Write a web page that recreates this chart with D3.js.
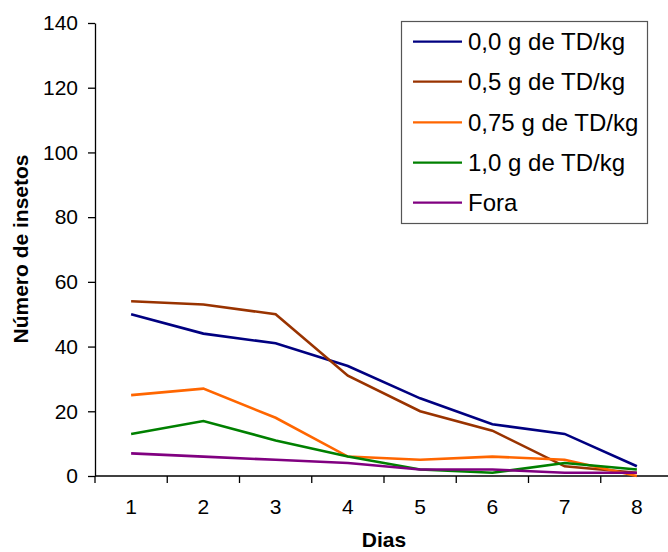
<!DOCTYPE html>
<html>
<head>
<meta charset="utf-8">
<script src="https://cdn.jsdelivr.net/npm/d3@7"></script>
<style>
  html, body { margin: 0; padding: 0; background: #fff; }
  svg { display: block; font-family: "Liberation Sans", Arial, sans-serif; }
</style>
</head>
<body>
<svg id="chart" width="668" height="552"></svg>
<script>
const days = ["1", "2", "3", "4", "5", "6", "7", "8"];
const yTicks = [0, 20, 40, 60, 80, 100, 120, 140];
const seriesNames = ["0,0 g de TD/kg", "0,5 g de TD/kg", "0,75 g de TD/kg", "1,0 g de TD/kg", "Fora"];
const s00 = [50, 44, 41, 34, 24, 16, 13, 3];
const s05 = [54, 53, 50, 31, 20, 14, 3, 1];
const s075 = [25, 27, 18, 6, 5, 6, 5, 0];
const s10 = [13, 17, 11, 6, 2, 1, 4, 2];
const fora = [7, 6, 5, 4, 2, 2, 1, 1];
const colors = ["#000080", "#993300", "#FF6600", "#008000", "#800080"];

const seriesValues = [s00, s05, s075, s10, fora];

const svg = d3.select("#chart");
const plotL = 95, plotR = 673, plotT = 23, plotB = 476;

const x = d3.scaleBand().domain(days).range([plotL, plotR]).padding(0);
const y = d3.scaleLinear().domain([0, 140]).range([plotB, plotT]);

// Y axis
const yAxis = svg.append("g")
  .attr("transform", `translate(${plotL},0)`)
  .call(d3.axisLeft(y).tickValues(yTicks).tickSize(7).tickPadding(10).tickSizeOuter(0));
yAxis.select(".domain").attr("stroke", "#000").attr("stroke-width", 1.3);
yAxis.selectAll(".tick line").attr("stroke", "#000").attr("stroke-width", 1.3);
yAxis.selectAll(".tick text").attr("font-size", 21).attr("fill", "#000")
  .attr("font-family", "Liberation Sans, Arial, sans-serif");

// X axis: labels at centers, ticks at band boundaries
const xAxis = svg.append("g")
  .attr("transform", `translate(0,${plotB})`)
  .call(d3.axisBottom(x).tickSize(0).tickPadding(23).tickSizeOuter(0));
xAxis.select(".domain").remove();
xAxis.selectAll(".tick text").attr("font-size", 21).attr("fill", "#000")
  .attr("font-family", "Liberation Sans, Arial, sans-serif");
svg.append("line")
  .attr("x1", plotL).attr("x2", plotR)
  .attr("y1", plotB).attr("y2", plotB)
  .attr("stroke", "#000").attr("stroke-width", 1.3);
const edges = days.map(d => x(d)).concat([x(days[days.length - 1]) + x.bandwidth()]);
svg.append("g").selectAll("line").data(edges).join("line")
  .attr("x1", d => d).attr("x2", d => d)
  .attr("y1", plotB).attr("y2", plotB + 7)
  .attr("stroke", "#000").attr("stroke-width", 1.3);

// Lines
const line = d3.line()
  .x((d, i) => x(days[i]) + x.bandwidth() / 2)
  .y(d => y(d));
svg.append("g").selectAll("path").data(seriesValues).join("path")
  .attr("d", d => line(d))
  .attr("fill", "none")
  .attr("stroke", (d, i) => colors[i])
  .attr("stroke-width", 2.6)
  .attr("stroke-linejoin", "miter");

// Axis titles
svg.append("text")
  .attr("x", 384).attr("y", 547)
  .attr("text-anchor", "middle")
  .attr("font-size", 21).attr("font-weight", "bold")
  .text("Dias");
svg.append("text")
  .attr("transform", "translate(28,249) rotate(-90)")
  .attr("text-anchor", "middle")
  .attr("font-size", 21).attr("font-weight", "bold")
  .text("Número de insetos");

// Legend
const lg = svg.append("g");
lg.append("rect")
  .attr("x", 401.5).attr("y", 21.5).attr("width", 246).attr("height", 202)
  .attr("fill", "#fff").attr("stroke", "#555").attr("stroke-width", 1.2);
const rowY = [41.7, 81.7, 122.3, 162.7, 202.7];
seriesNames.forEach((name, i) => {
  lg.append("line")
    .attr("x1", 413).attr("x2", 462)
    .attr("y1", rowY[i]).attr("y2", rowY[i])
    .attr("stroke", colors[i]).attr("stroke-width", 2.2);
  lg.append("text")
    .attr("x", 468).attr("y", rowY[i] + 8.5)
    .attr("font-size", 24).attr("fill", "#000")
    .text(name);
});
</script>
</body>
</html>
